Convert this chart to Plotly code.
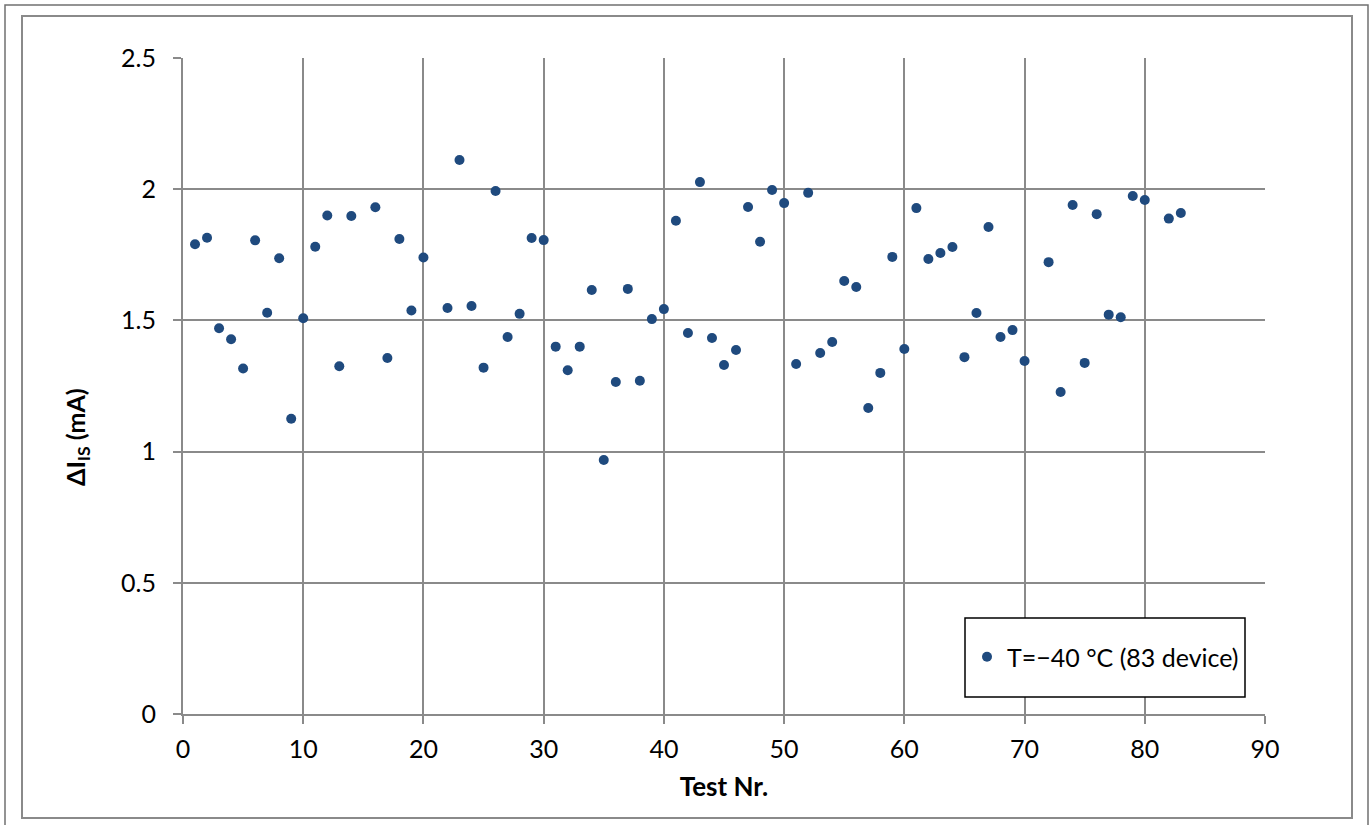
import plotly.graph_objects as go

test_nr = [1, 2, 3, 4, 5, 6, 7, 8, 9, 10, 11, 12, 13, 14, 16, 17, 18, 19, 20,
           22, 23, 24, 25, 26, 27, 28, 29, 30, 31, 32, 33, 34, 35, 36, 37, 38, 39, 40,
           41, 42, 43, 44, 45, 46, 47, 48, 49, 50, 51, 52, 53, 54, 55, 56, 57, 58, 59, 60,
           61, 62, 63, 64, 65, 66, 67, 68, 69, 70, 72, 73, 74, 75, 76, 77, 78, 79, 80,
           82, 83]
delta_is = [1.790, 1.815, 1.470, 1.428, 1.317, 1.805, 1.529, 1.737, 1.125, 1.508,
            1.781, 1.900, 1.325, 1.898, 1.931, 1.357, 1.810, 1.538, 1.740,
            1.547, 2.111, 1.555, 1.320, 1.993, 1.437, 1.525, 1.814, 1.806, 1.400, 1.310,
            1.400, 1.616, 0.968, 1.265, 1.620, 1.270, 1.505, 1.543,
            1.880, 1.452, 2.027, 1.433, 1.330, 1.387, 1.932, 1.800, 1.997, 1.947, 1.334,
            1.986, 1.376, 1.418, 1.650, 1.627, 1.166, 1.300, 1.742, 1.391,
            1.928, 1.734, 1.757, 1.780, 1.360, 1.528, 1.856, 1.437, 1.463, 1.345,
            1.722, 1.227, 1.940, 1.338, 1.905, 1.522, 1.512, 1.974, 1.959,
            1.888, 1.909]

x_ticks = [0, 10, 20, 30, 40, 50, 60, 70, 80, 90]
y_ticks = [0, 0.5, 1, 1.5, 2, 2.5]
y_tick_text = ["0", "0.5", "1", "1.5", "2", "2.5"]
series_name = "T=\u221240 \u00b0C (83 device)"
y_title = "<b>\u0394I<sub>IS</sub> (mA)</b>"
x_title = "<b>Test Nr.</b>"

FONT = "Lato"
GRID = "#8a8a8a"
MARK = "#1F4A7E"

def px_x(p):
    return (p - 183) / 1082

def px_y(p):
    return (714 - p) / 656

fig = go.Figure()
fig.add_trace(go.Scatter(
    x=test_nr, y=delta_is, mode="markers", name=series_name,
    marker=dict(color=MARK, size=10, line=dict(width=0)),
    showlegend=True,
))

fig.update_layout(
    width=1370, height=825,
    margin=dict(l=183, r=105, t=58, b=111),
    paper_bgcolor="white", plot_bgcolor="white",
    font=dict(family=FONT, size=25, color="#000000"),
    showlegend=True,
    legend=dict(
        x=px_x(967), y=px_y(657), xanchor="left", yanchor="middle",
        bgcolor="rgba(0,0,0,0)", borderwidth=0,
        font=dict(family=FONT, size=25, color="#000000"),
        itemsizing="trace",
    ),
    xaxis=dict(
        range=[0, 90], tickvals=x_ticks, ticktext=[str(v) for v in x_ticks],
        showgrid=True, gridcolor=GRID, gridwidth=2,
        showline=True, linecolor=GRID, linewidth=2,
        ticks="outside", ticklen=8, tickwidth=2, tickcolor=GRID,
        zeroline=False, ticklabelstandoff=4,
        title=dict(text=x_title, font=dict(family=FONT, size=26), standoff=16),
        tickfont=dict(family=FONT, size=25),
    ),
    yaxis=dict(
        range=[0, 2.5], tickvals=y_ticks, ticktext=y_tick_text,
        showgrid=True, gridcolor=GRID, gridwidth=2,
        showline=True, linecolor=GRID, linewidth=2,
        ticks="outside", ticklen=8, tickwidth=2, tickcolor=GRID,
        zeroline=False, ticklabelstandoff=12,
        tickfont=dict(family=FONT, size=25),
    ),
    annotations=[
        dict(text=y_title, xref="paper", yref="paper",
             x=px_x(77), y=px_y(437), xanchor="center", yanchor="middle",
             textangle=-90, showarrow=False,
             font=dict(family=FONT, size=25, color="#000000")),
    ],
    shapes=[
        # legend box (white fill, drawn beneath the legend text)
        dict(type="rect", xref="paper", yref="paper",
             x0=px_x(965), x1=px_x(1245), y0=px_y(697), y1=px_y(618),
             line=dict(color="#000000", width=1.5), fillcolor="white", layer="above"),
        # inner chart frame
        dict(type="rect", xref="paper", yref="paper",
             x0=px_x(22), x1=px_x(1352), y0=px_y(818), y1=px_y(16),
             line=dict(color="#8a8a8a", width=2), fillcolor="rgba(0,0,0,0)"),
        # outer frame
        dict(type="rect", xref="paper", yref="paper",
             x0=px_x(5), x1=px_x(1368), y0=px_y(830), y1=px_y(5),
             line=dict(color="#707070", width=1.5), fillcolor="rgba(0,0,0,0)"),
    ],
)

fig.write_html("out.html")
